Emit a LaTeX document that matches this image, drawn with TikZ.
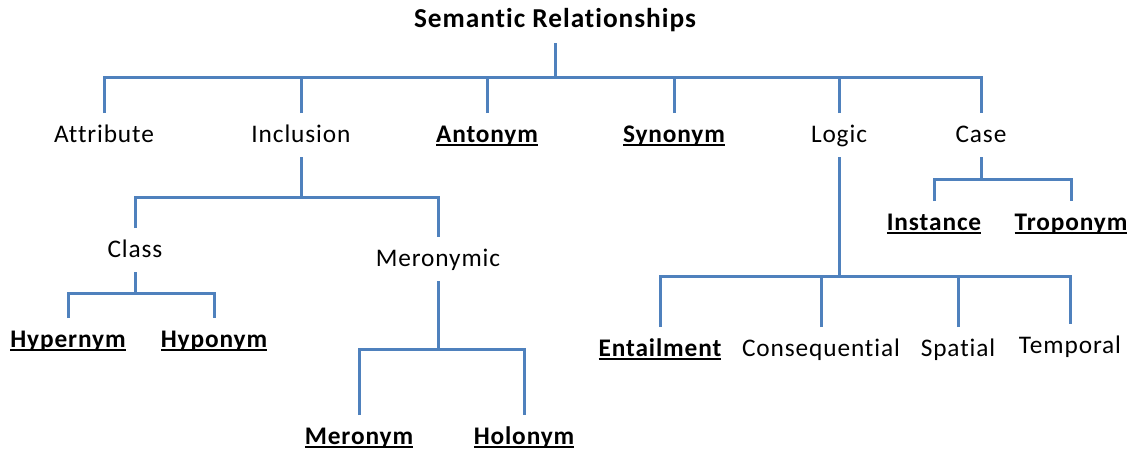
\documentclass[tikz,border=0pt]{standalone}
\usepackage{fontspec}
\setmainfont[LetterSpace=3.5,Ligatures={NoCommon}]{Carlito}
\definecolor{linkblue}{HTML}{4F81BD}
\newcommand{\ulw}[1]{\setbox0\hbox{\bfseries #1}\rlap{\rule[-0.15em]{\wd0}{0.08em}}\box0}
\begin{document}
\begin{tikzpicture}[x=0.75pt,y=-0.75pt,
  lbl/.style={inner sep=0pt,outer sep=0pt,anchor=base,font=\fontsize{19}{23}\selectfont,
    text height=21.75pt,text depth=11.25pt},
  ttl/.style={lbl,font=\fontsize{20.5}{24}\selectfont\bfseries,text depth=12pt},
  conn/.style={draw=linkblue,line width=2.25pt}]
\useasboundingbox[fill=white] (0,0) rectangle (1138,451);
% nodes
\node[ttl] (root) at (555,27) {Semantic Relationships};
\node[lbl] (attr) at (104,142) {Attribute};
\node[lbl] (incl) at (301,142) {Inclusion};
\node[lbl] (ant) at (487,142) {\ulw{Antonym}};
\node[lbl] (syn) at (674,142) {\ulw{Synonym}};
\node[lbl] (logic) at (839,142) {Logic};
\node[lbl] (case) at (981,142) {Case};
\node[lbl] (class) at (135,257) {Class};
\node[lbl] (mero) at (438,266) {Meronymic};
\node[lbl] (hyper) at (68,347) {\ulw{Hypernym}};
\node[lbl] (hypo) at (214,347) {\ulw{Hyponym}};
\node[lbl] (meronym) at (359,444) {\ulw{Meronym}};
\node[lbl] (holo) at (524,444) {\ulw{Holonym}};
\node[lbl] (ent) at (660,356) {\ulw{Entailment}};
\node[lbl] (cons) at (821,356) {Consequential};
\node[lbl] (spat) at (958,356) {Spatial};
\node[lbl] (temp) at (1070,353) {Temporal};
\node[lbl] (inst) at (934,230) {\ulw{Instance}};
\node[lbl] (tropo) at (1071,230) {\ulw{Troponym}};
% junctions
\coordinate (j0) at (555,77);
\coordinate (j1) at (301,197);
\coordinate (j2) at (135,293);
\coordinate (j3) at (438,349);
\coordinate (j4) at (839,276);
\coordinate (j5) at (981,179);
% connectors
\draw[conn] (root.south) -- (j0);
\draw[conn] (attr.north) -- (attr.north |- j0) -- (case.north |- j0) -- (case.north);
\foreach \n in {incl,ant,syn,logic} \draw[conn] (\n.north) -- (\n.north |- j0);
\draw[conn] (incl.south) -- (j1);
\draw[conn] (class.north) -- (class.north |- j1) -- (mero.north |- j1) -- (mero.north);
\draw[conn] (class.south) -- (j2);
\draw[conn] (hyper.north) -- (hyper.north |- j2) -- (hypo.north |- j2) -- (hypo.north);
\draw[conn] (mero.south) -- (j3);
\draw[conn] (meronym.north) -- (meronym.north |- j3) -- (holo.north |- j3) -- (holo.north);
\draw[conn] (logic.south) -- (j4);
\draw[conn] (ent.north) -- (ent.north |- j4) -- (temp.north |- j4) -- (temp.north);
\foreach \n in {cons,spat} \draw[conn] (\n.north) -- (\n.north |- j4);
\draw[conn] (case.south) -- (j5);
\draw[conn] (inst.north) -- (inst.north |- j5) -- (tropo.north |- j5) -- (tropo.north);
\end{tikzpicture}
\end{document}
